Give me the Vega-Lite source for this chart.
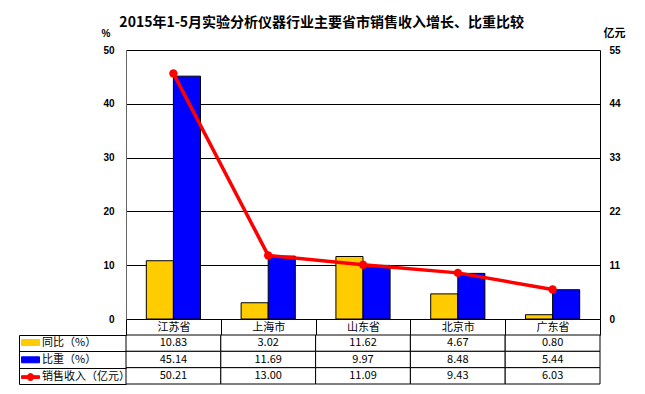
{
  "$schema": "https://vega.github.io/schema/vega-lite/v6.json",
  "padding": {"left": 18, "top": 16, "right": 5, "bottom": 5},
  "background": "white",
  "title": {"text": "2015年1-5月实验分析仪器行业主要省市销售收入增长、比重比较", "font": "Noto Sans CJK SC", "fontSize": 14, "fontWeight": "bold", "color": "black", "anchor": "middle", "offset": -3},
  "datasets": {
    "main": [
      {"城市": "江苏省", "指标": "同比（%）", "值": 10.83},
      {"城市": "上海市", "指标": "同比（%）", "值": 3.02},
      {"城市": "山东省", "指标": "同比（%）", "值": 11.62},
      {"城市": "北京市", "指标": "同比（%）", "值": 4.67},
      {"城市": "广东省", "指标": "同比（%）", "值": 0.80},
      {"城市": "江苏省", "指标": "比重（%）", "值": 45.14},
      {"城市": "上海市", "指标": "比重（%）", "值": 11.69},
      {"城市": "山东省", "指标": "比重（%）", "值": 9.97},
      {"城市": "北京市", "指标": "比重（%）", "值": 8.48},
      {"城市": "广东省", "指标": "比重（%）", "值": 5.44},
      {"城市": "江苏省", "指标": "销售收入（亿元）", "值": 50.21},
      {"城市": "上海市", "指标": "销售收入（亿元）", "值": 13.00},
      {"城市": "山东省", "指标": "销售收入（亿元）", "值": 11.09},
      {"城市": "北京市", "指标": "销售收入（亿元）", "值": 9.43},
      {"城市": "广东省", "指标": "销售收入（亿元）", "值": 6.03}
    ]
  },
  "data": {"name": "main"},
  "bounds": "flush",
  "spacing": 16,
  "resolve": {"scale": {"x": "independent", "y": "independent", "color": "independent"}, "legend": {"color": "independent"}},
  "config": {
    "view": {"stroke": null},
    "legend": {"orient": "none", "legendX": -101, "legendY": 287, "title": null, "padding": 0, "rowPadding": 5.3, "symbolSize": 100, "symbolType": "M-1.8,-0.6H1.8V0.6H-1.8Z", "symbolStrokeColor": "black", "symbolStrokeWidth": 1, "symbolOpacity": 1, "labelFont": "Noto Sans CJK SC", "labelFontSize": 11, "labelColor": "black", "labelOffset": 6, "labelLimit": 200}
  },
  "vconcat": [
    {
      "width": 474,
      "height": 269,
      "layer": [
        {
          "transform": [{"filter": "datum['指标'] !== '销售收入（亿元）'"}],
          "mark": {"type": "bar", "stroke": "black", "strokeWidth": 1},
          "encoding": {
            "x": {"field": "城市", "type": "nominal", "sort": null,
              "scale": {"domain": ["江苏省", "上海市", "山东省", "北京市", "广东省"], "paddingInner": 0, "paddingOuter": 0},
              "axis": {"title": null, "orient": "bottom", "domainColor": "black", "ticks": true, "tickBand": "extent", "tickSize": 16, "tickColor": "black", "labelPadding": -8, "labelBaseline": "middle", "labelAngle": 0, "labelFont": "Noto Sans CJK SC", "labelFontSize": 11, "labelColor": "black", "grid": false}},
            "xOffset": {"field": "指标", "type": "nominal", "sort": null, "scale": {"domain": ["同比（%）", "比重（%）"], "paddingInner": 0, "paddingOuter": 0.75}},
            "y": {"field": "值", "type": "quantitative", "scale": {"domain": [0, 50]},
              "axis": {"title": "%", "titleAngle": 0, "titleX": -25, "titleY": -17, "titleAlign": "left", "titleBaseline": "middle", "titleFont": "Liberation Sans", "titleFontSize": 10, "titleFontWeight": "bold", "titleColor": "black", "values": [0, 10, 20, 30, 40, 50], "ticks": false, "labelPadding": 12, "labelFont": "Liberation Sans", "labelFontSize": 10, "labelFontWeight": "bold", "labelColor": "black", "domainColor": "#666666", "grid": true, "gridColor": "black", "gridOpacity": 1, "gridWidth": 1}},
            "color": {"field": "指标", "type": "nominal",
              "scale": {"domain": ["同比（%）", "比重（%）", "销售收入（亿元）"], "range": ["#FFCC00", "#0000FF", "#FF0000"]},
              "legend": {
                "encode": {"symbols": {"update": {
                  "shape": {"signal": "datum.value === '销售收入（亿元）' ? 'M-1.8,-0.28H-0.6V0.28H-1.8Z M0.6,-0.28H1.8V0.28H0.6Z M-0.7,0A0.7,0.7 0 1,1 0.7,0A0.7,0.7 0 1,1 -0.7,0Z' : 'M-1.8,-0.6H1.8V0.6H-1.8Z'"},
                  "fill": {"signal": "datum.value === '同比（%）' ? '#FFCC00' : datum.value === '比重（%）' ? '#0000FF' : '#FF0000'"},
                  "stroke": {"signal": "datum.value === '销售收入（亿元）' ? 'transparent' : 'black'"},
                  "strokeWidth": {"value": 1},
                  "opacity": {"value": 1}
                }}}}}
          }
        },
        {
          "transform": [{"filter": "datum['指标'] === '销售收入（亿元）'"}],
          "mark": {"type": "line", "strokeWidth": 3.5, "point": {"filled": true, "size": 70}},
          "encoding": {
            "x": {"field": "城市", "type": "nominal", "sort": null},
            "y": {"field": "值", "type": "quantitative", "scale": {"domain": [0, 55]},
              "axis": {"orient": "right", "title": "亿元", "titleAngle": 0, "titleX": 3, "titleY": -17, "titleAlign": "left", "titleBaseline": "middle", "titleFont": "Noto Sans CJK SC", "titleFontSize": 11, "titleFontWeight": "bold", "titleColor": "black", "values": [0, 11, 22, 33, 44, 55], "ticks": false, "labelPadding": 9, "labelFont": "Liberation Sans", "labelFontSize": 10, "labelFontWeight": "bold", "labelColor": "black", "domainColor": "black", "grid": false}},
            "color": {"field": "指标", "type": "nominal",
              "legend": {
                "encode": {"symbols": {"update": {
                  "shape": {"signal": "datum.value === '销售收入（亿元）' ? 'M-1.8,-0.28H-0.6V0.28H-1.8Z M0.6,-0.28H1.8V0.28H0.6Z M-0.7,0A0.7,0.7 0 1,1 0.7,0A0.7,0.7 0 1,1 -0.7,0Z' : 'M-1.8,-0.6H1.8V0.6H-1.8Z'"},
                  "fill": {"signal": "datum.value === '同比（%）' ? '#FFCC00' : datum.value === '比重（%）' ? '#0000FF' : '#FF0000'"},
                  "stroke": {"signal": "datum.value === '销售收入（亿元）' ? 'transparent' : 'black'"},
                  "strokeWidth": {"value": 1},
                  "opacity": {"value": 1}
                }}}}}
          }
        }
      ],
      "resolve": {"scale": {"y": "independent"}}
    },
    {
      "width": 474,
      "height": 49,
      "layer": [
        {
          "mark": {"type": "rect", "fill": "white", "stroke": "black", "strokeWidth": 1},
          "encoding": {
            "x": {"field": "城市", "type": "nominal", "sort": null, "scale": {"domain": ["江苏省", "上海市", "山东省", "北京市", "广东省"], "paddingInner": 0, "paddingOuter": 0}, "axis": null},
            "y": {"field": "指标", "type": "nominal", "sort": null, "scale": {"domain": ["同比（%）", "比重（%）", "销售收入（亿元）"], "paddingInner": 0, "paddingOuter": 0},
              "axis": {"orient": "left", "offset": 107, "title": null, "labels": false, "ticks": true, "tickBand": "extent", "tickSize": -107, "tickColor": "black", "domain": true, "domainColor": "black", "grid": false}}
          }
        },
        {
          "mark": {"type": "text", "font": "Noto Sans CJK SC", "fontSize": 11, "color": "black"},
          "encoding": {
            "x": {"field": "城市", "type": "nominal", "sort": null},
            "y": {"field": "指标", "type": "nominal", "sort": null},
            "text": {"field": "值", "type": "quantitative", "format": ".2f"}
          }
        }
      ]
    }
  ]
}
